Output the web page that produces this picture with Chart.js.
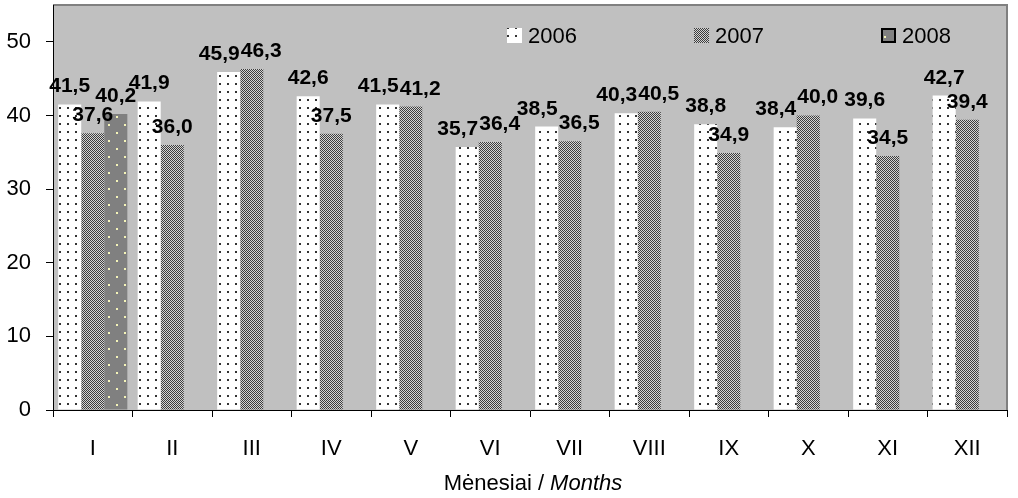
<!DOCTYPE html>
<html>
<head>
<meta charset="utf-8">
<script src="https://cdn.jsdelivr.net/npm/chart.js@4.4.1/dist/chart.umd.min.js"></script>
<style>
  html, body { margin: 0; padding: 0; background: #fff; }
  #wrap { width: 1018px; height: 498px; }
</style>
</head>
<body>
<div id="wrap"><canvas id="c" width="1018" height="498"></canvas></div>
<script>
// month labels and yearly values
const months = ['I', 'II', 'III', 'IV', 'V', 'VI', 'VII', 'VIII', 'IX', 'X', 'XI', 'XII'];
const years = ['2006', '2007', '2008'];
const values2006 = [41.5, 41.9, 45.9, 42.6, 41.5, 35.7, 38.5, 40.3, 38.8, 38.4, 39.6, 42.7];
const values2007 = [37.6, 36.0, 46.3, 37.5, 41.2, 36.4, 36.5, 40.5, 34.9, 40.0, 34.5, 39.4];
const values2008 = [40.2, null, null, null, null, null, null, null, null, null, null, null];
const yTicks = [0, 10, 20, 30, 40, 50];
const axisTitle = ['Mėnesiai / ', 'Months'];

const FONT = '"Liberation Sans", Arial, sans-serif';

// build fill patterns like the old office hatches
function makePattern(size, bg, dot, dots, dotSize) {
  const c = document.createElement('canvas');
  c.width = size; c.height = size;
  const g = c.getContext('2d');
  g.fillStyle = bg;
  g.fillRect(0, 0, size, size);
  g.fillStyle = dot;
  dots.forEach(p => g.fillRect(p[0], p[1], dotSize, dotSize));
  return document.getElementById('c').getContext('2d').createPattern(c, 'repeat');
}

const patDots = makePattern(8, '#ffffff', '#333333', [[3, 3]], 2);
const patCheck = makePattern(2, '#d4d4d4', '#3c3c3c', [[0, 0], [1, 1]], 1);
const patGrey = makePattern(16, '#808080', '#f4f4b8', [[4, 4], [12, 12]], 2);
const fills = [patDots, patCheck, patGrey];

const fmt = v => v.toFixed(1).replace('.', ',');

// plot area background and frame
const plotBg = {
  id: 'plotBg',
  beforeDraw(chart) {
    const {ctx, chartArea: a} = chart;
    ctx.save();
    ctx.fillStyle = '#c0c0c0';
    ctx.fillRect(a.left, a.top, a.right - a.left, a.bottom - a.top);
    ctx.strokeStyle = '#808080';
    ctx.lineWidth = 2;
    ctx.beginPath();
    ctx.moveTo(a.left, a.top);
    ctx.lineTo(a.right, a.top);
    ctx.lineTo(a.right, a.bottom);
    ctx.stroke();
    ctx.restore();
  }
};

// value labels above bars, pushed apart when they collide
const barLabels = {
  id: 'barLabels',
  afterDatasetsDraw(chart) {
    const ctx = chart.ctx;
    ctx.save();
    ctx.font = 'bold 21px ' + FONT;
    ctx.fillStyle = '#000';
    ctx.textAlign = 'center';
    ctx.textBaseline = 'alphabetic';
    months.forEach((m, i) => {
      const items = [];
      chart.data.datasets.forEach((ds, d) => {
        const v = ds.data[i];
        if (v == null) return;
        const bar = chart.getDatasetMeta(d).data[i];
        const t = fmt(v);
        items.push({t, x: bar.x, y: bar.y - 12, w: ctx.measureText(t).width});
      });
      for (let k = 1; k < items.length; k++) {
        const p = items[k - 1], q = items[k];
        const over = (p.x + p.w / 2 + 1) - (q.x - q.w / 2);
        if (over > 0 && Math.abs(p.y - q.y) < 16) {
          p.x -= over / 2;
          q.x += over / 2;
        }
      }
      items.forEach(it => ctx.fillText(it.t, it.x, it.y));
    });
    ctx.restore();
  }
};

// legend inside the plot area, top right
const innerLegend = {
  id: 'innerLegend',
  afterDraw(chart) {
    const {ctx, chartArea: a} = chart;
    ctx.save();
    ctx.font = '22px ' + FONT;
    ctx.textBaseline = 'middle';
    const y = a.top + 31;
    const x0 = a.right - 500;
    years.forEach((yr, i) => {
      const x = x0 + i * 187;
      ctx.fillStyle = fills[i];
      ctx.fillRect(x, y - 8, 15, 15);
      if (i === 2) {
        ctx.strokeStyle = '#000';
        ctx.lineWidth = 2;
        ctx.strokeRect(x + 1, y - 7, 13, 13);
      }
      ctx.fillStyle = '#000';
      ctx.fillText(yr, x + 21, y + 1);
    });
    ctx.restore();
  }
};

// x axis title with the italic english part
const xTitle = {
  id: 'xTitle',
  afterDraw(chart) {
    const {ctx, chartArea: a} = chart;
    ctx.save();
    ctx.fillStyle = '#000';
    ctx.textBaseline = 'middle';
    ctx.font = '22px ' + FONT;
    const w1 = ctx.measureText(axisTitle[0]).width;
    ctx.font = 'italic 22px ' + FONT;
    const w2 = ctx.measureText(axisTitle[1]).width;
    let x = (a.left + a.right) / 2 + 3 - (w1 + w2) / 2;
    const y = 484;
    ctx.font = '22px ' + FONT;
    ctx.fillText(axisTitle[0], x, y);
    ctx.font = 'italic 22px ' + FONT;
    ctx.fillText(axisTitle[1], x + w1, y);
    ctx.restore();
  }
};

const series = [values2006, values2007, values2008];

new Chart(document.getElementById('c'), {
  type: 'bar',
  data: {
    labels: months,
    datasets: years.map((yr, i) => ({
      label: yr,
      data: series[i],
      backgroundColor: fills[i],
      borderWidth: 0,
      categoryPercentage: 0.87,
      barPercentage: 1.0
    }))
  },
  options: {
    responsive: false,
    animation: false,
    layout: {padding: {top: 5, right: 11, left: 0, bottom: 0}},
    plugins: {
      legend: {display: false},
      tooltip: {enabled: false}
    },
    scales: {
      x: {
        grid: {
          offset: true,
          drawOnChartArea: false,
          color: '#000',
          tickLength: 7
        },
        border: {color: '#000', width: 1},
        ticks: {
          color: '#000',
          font: {family: FONT, size: 22},
          padding: 19,
          maxRotation: 0
        },
        afterFit(scale) {
          scale.height = 88;
          scale.paddingLeft = 0;
          scale.paddingRight = 0;
        }
      },
      y: {
        min: 0,
        max: 55,
        ticks: {
          stepSize: 10,
          color: '#000',
          font: {family: FONT, size: 22},
          padding: 15
        },
        afterBuildTicks(scale) {
          scale.ticks = yTicks.map(v => ({value: v}));
        },
        grid: {
          drawOnChartArea: false,
          color: '#000',
          tickLength: 7
        },
        border: {color: '#000', width: 1},
        afterFit(scale) {
          scale.width = 53;
          scale.paddingTop = 0;
          scale.paddingBottom = 0;
        }
      }
    }
  },
  plugins: [plotBg, barLabels, innerLegend, xTitle]
});
</script>
</body>
</html>
